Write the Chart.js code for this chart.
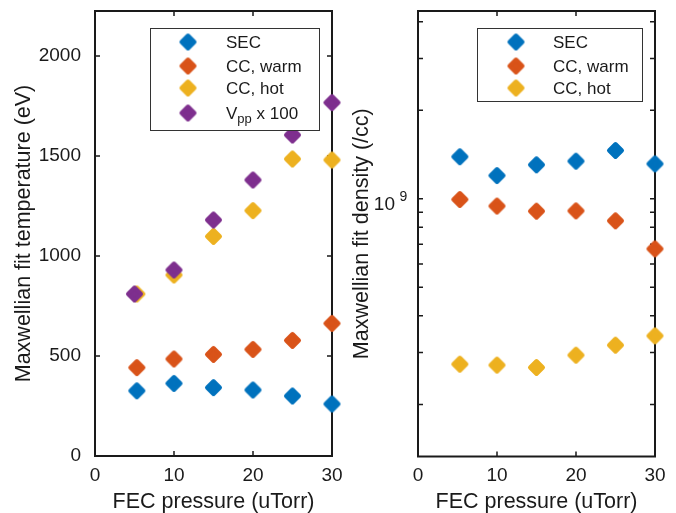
<!DOCTYPE html>
<html>
<head>
<meta charset="utf-8">
<title>Maxwellian fits vs FEC pressure</title>
<script src="https://cdn.jsdelivr.net/npm/chart.js@4.4.0/dist/chart.umd.min.js"></script>
<style>
  body { margin: 0; background: #fff; }
  #wrap { position: relative; width: 676px; height: 513px; overflow: hidden; }
  canvas { position: absolute; top: 0; }
  #tempChart { left: 0; }
  #densChart { left: 338px; }
</style>
</head>
<body>
<div id="wrap">
  <canvas id="tempChart" width="350" height="513"></canvas>
  <canvas id="densChart" width="338" height="513"></canvas>
</div>
<script>
// FEC pressure (uTorr) for each run
const pressure = [5.3, 10, 15, 20, 25, 30];
const vppPressure = [5, 10, 15, 20, 25, 30];

const seriesNames = ['SEC', 'CC, warm', 'CC, hot', 'V_{pp} x 100'];
const seriesColors = ['#0072BD', '#D95319', '#EDB120', '#7E2F8E'];

// temperatures (eV)
const tempSEC = [326, 363, 342, 330, 300, 260];
const tempWarm = [442, 485, 508, 533, 578, 663];
const tempHot = [810, 905, 1098, 1227, 1485, 1480];
const vppTimes100 = [810, 930, 1180, 1380, 1605, 1767];

// densities (/cc)
const densSEC = [1.39e9, 1.20e9, 1.305e9, 1.343e9, 1.46e9, 1.315e9];
const densWarm = [0.995e9, 0.945e9, 0.908e9, 0.91e9, 0.842e9, 0.676e9];
const densHot = [2.74e8, 2.72e8, 2.67e8, 2.94e8, 3.18e8, 3.42e8];

const xTicks = [0, 10, 20, 30];
const tempTicks = [0, 500, 1000, 1500, 2000];
const densMajor = [1e9];
const densMinor = [2e8, 3e8, 4e8, 5e8, 6e8, 7e8, 8e8, 9e8, 2e9, 3e9, 4e9];

const ink = '#1a1a1a';
const family = "'Liberation Sans', Arial, Helvetica, sans-serif";
Chart.defaults.font.family = family;
Chart.defaults.color = ink;

// filled diamond with softened tips, used as the point style
function diamondImage(color) {
  const c = document.createElement('canvas');
  c.width = 21;
  c.height = 21;
  const g = c.getContext('2d');
  const m = 10.5, r = 6.5;
  g.beginPath();
  g.moveTo(m - r, m);
  g.lineTo(m, m - r);
  g.lineTo(m + r, m);
  g.lineTo(m, m + r);
  g.closePath();
  g.fillStyle = color;
  g.fill();
  g.strokeStyle = color;
  g.lineWidth = 4;
  g.lineJoin = 'round';
  g.stroke();
  return c;
}
const markers = seriesColors.map(diamondImage);

function toPoints(xs, ys) {
  return xs.map((x, i) => ({ x: x, y: ys[i] }));
}

function series(i, xs, ys, order) {
  return {
    label: seriesNames[i],
    data: toPoints(xs, ys),
    backgroundColor: seriesColors[i],
    borderColor: seriesColors[i],
    pointStyle: markers[i],
    pointRadius: 10,
    showLine: false,
    clip: false,
    order: order
  };
}

// keep the plot box where the layout puts it, ignore label overhang
function noOverhang(scale) {
  scale.paddingLeft = 0;
  scale.paddingRight = 0;
  scale.paddingTop = 0;
  scale.paddingBottom = 0;
}

// draws "V_{pp} x 100" style labels with a subscript part
function drawLabel(ctx, text, x, y, size) {
  const parts = text.split(/_\{([^}]*)\}/);
  ctx.textAlign = 'left';
  ctx.textBaseline = 'alphabetic';
  parts.forEach((p, i) => {
    if (!p) return;
    const sub = i % 2 === 1;
    ctx.font = (sub ? Math.round(size * 0.75) : size) + 'px ' + family;
    ctx.fillText(p, x, sub ? y + 4 : y);
    x += ctx.measureText(p).width;
  });
}

// box + inward tick marks, drawn under the markers
const axesFrame = {
  id: 'axesFrame',
  beforeDatasetsDraw(chart, args, opts) {
    const { ctx, chartArea: a } = chart;
    const xs = chart.scales.x, ys = chart.scales.y;
    const len = opts.tickLen;
    ctx.save();
    ctx.strokeStyle = ink;
    ctx.lineWidth = 1.5;
    ctx.beginPath();
    opts.xTicks.forEach(v => {
      const p = xs.getPixelForValue(v);
      ctx.moveTo(p, a.bottom); ctx.lineTo(p, a.bottom - len);
      ctx.moveTo(p, a.top); ctx.lineTo(p, a.top + len);
    });
    opts.yTicks.forEach(v => {
      const p = ys.getPixelForValue(v);
      ctx.moveTo(a.left, p); ctx.lineTo(a.left + len, p);
      ctx.moveTo(a.right, p); ctx.lineTo(a.right - len, p);
    });
    ctx.stroke();
    ctx.lineWidth = 2;
    ctx.strokeRect(a.left, a.top, a.right - a.left, a.bottom - a.top);
    ctx.restore();
  }
};

const boxLegend = {
  id: 'boxLegend',
  afterDraw(chart, args, opts) {
    const ctx = chart.ctx;
    const [x1, y1, x2, y2] = opts.box;
    ctx.save();
    ctx.fillStyle = '#fff';
    ctx.fillRect(x1, y1, x2 - x1, y2 - y1);
    ctx.strokeStyle = '#333';
    ctx.lineWidth = 1;
    ctx.strokeRect(x1 + 0.5, y1 + 0.5, x2 - x1, y2 - y1);
    chart.data.datasets.forEach((ds, i) => {
      const cy = opts.rowY[i];
      const img = ds.pointStyle;
      ctx.drawImage(img, opts.markerX - img.width / 2, cy - img.height / 2);
      ctx.fillStyle = ink;
      drawLabel(ctx, ds.label, opts.textX, cy + 6, 17);
    });
    ctx.restore();
  }
};

// "10^9" label on the log axis
const powerLabels = {
  id: 'powerLabels',
  afterDraw(chart, args, opts) {
    if (!opts.values) return;
    const ctx = chart.ctx;
    const ys = chart.scales.y;
    ctx.save();
    ctx.fillStyle = ink;
    opts.values.forEach(v => {
      const p = ys.getPixelForValue(v);
      const exp = Math.round(Math.log10(v));
      ctx.textBaseline = 'alphabetic';
      ctx.textAlign = 'right';
      ctx.font = '19px ' + family;
      ctx.fillText('10', opts.x, p + 11);
      ctx.textAlign = 'left';
      ctx.font = '14px ' + family;
      ctx.fillText(String(exp), opts.x + 4.5, p + 2.5);
    });
    ctx.restore();
  }
};

function xScale(height) {
  return {
    type: 'linear',
    min: 0,
    max: 30,
    grid: { display: false },
    border: { display: false },
    ticks: { stepSize: 10, font: { size: 19 }, padding: 0, maxRotation: 0 },
    title: { display: true, text: 'FEC pressure (uTorr)', font: { size: 21.5, lineHeight: 1 }, padding: { top: 0, bottom: 0 } },
    afterFit(scale) {
      scale.height = height;
      noOverhang(scale);
    }
  };
}

new Chart(document.getElementById('tempChart'), {
  type: 'scatter',
  data: {
    datasets: [
      series(0, pressure, tempSEC, 4),
      series(1, pressure, tempWarm, 3),
      series(2, pressure, tempHot, 2),
      series(3, vppPressure, vppTimes100, 1)
    ]
  },
  options: {
    responsive: false,
    animation: false,
    events: [],
    layout: { padding: { top: 11, right: 18, left: 0, bottom: 0 } },
    scales: {
      x: xScale(57),
      y: {
        type: 'linear',
        min: 0,
        max: 2225,
        grid: { display: false },
        border: { display: false },
        ticks: { stepSize: 500, font: { size: 19 }, padding: 6, callback: v => String(v) },
        afterBuildTicks(scale) { scale.ticks = tempTicks.map(v => ({ value: v })); },
        title: { display: true, text: 'Maxwellian fit temperature (eV)', font: { size: 21.5 }, padding: { top: 11, bottom: 0 } },
        afterFit(scale) {
          scale.width = 95;
          noOverhang(scale);
        }
      }
    },
    plugins: {
      legend: { display: false },
      tooltip: { enabled: false },
      axesFrame: { xTicks: xTicks, yTicks: tempTicks, tickLen: 5 },
      boxLegend: { box: [150, 28, 319, 130], markerX: 188, textX: 226, rowY: [42, 66, 88, 113] },
      powerLabels: {}
    }
  },
  plugins: [axesFrame, boxLegend, powerLabels]
});

new Chart(document.getElementById('densChart'), {
  type: 'scatter',
  data: {
    datasets: [
      series(0, pressure, densSEC, 3),
      series(1, pressure, densWarm, 2),
      series(2, pressure, densHot, 1)
    ]
  },
  options: {
    responsive: false,
    animation: false,
    events: [],
    layout: { padding: { top: 11, right: 21, left: 0, bottom: 0 } },
    scales: {
      x: xScale(56.5),
      y: {
        type: 'logarithmic',
        min: 1.33e8,
        max: 4.35e9,
        grid: { display: false },
        border: { display: false },
        ticks: { display: false },
        title: { display: true, text: 'Maxwellian fit density (/cc)', font: { size: 21.5 }, padding: { top: 11, bottom: 0 } },
        afterFit(scale) {
          scale.width = 80;
          noOverhang(scale);
        }
      }
    },
    plugins: {
      legend: { display: false },
      tooltip: { enabled: false },
      axesFrame: { xTicks: xTicks, yTicks: densMajor.concat(densMinor), tickLen: 5 },
      boxLegend: { box: [139, 28, 304, 101], markerX: 178, textX: 215, rowY: [42, 66, 88] },
      powerLabels: { values: densMajor, x: 57 }
    }
  },
  plugins: [axesFrame, boxLegend, powerLabels]
});
</script>
</body>
</html>
